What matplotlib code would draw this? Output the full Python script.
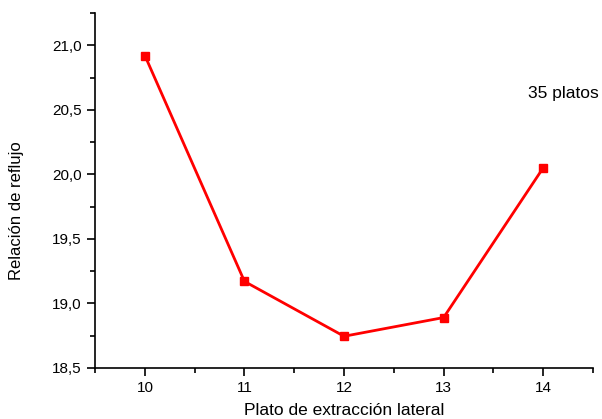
import matplotlib.pyplot as plt
from matplotlib.ticker import MultipleLocator, FuncFormatter

plt.rcParams['font.family'] = ['Liberation Sans', 'DejaVu Sans']

platos = [10, 11, 12, 13, 14]
reflujo = [20.92, 19.17, 18.745, 18.89, 20.05]

fig = plt.figure(figsize=(6.02, 4.19), dpi=100)
ax = fig.add_axes([0.158, 0.122, 0.827, 0.847])

ax.plot(platos, reflujo, color='#ff0000', linewidth=2, marker='s', markersize=6)

ax.set_xlim(9.5, 14.5)
ax.set_ylim(18.5, 21.25)
ax.xaxis.set_major_locator(MultipleLocator(1))
ax.xaxis.set_minor_locator(MultipleLocator(0.5))
ax.yaxis.set_major_locator(MultipleLocator(0.5))
ax.yaxis.set_minor_locator(MultipleLocator(0.25))
ax.yaxis.set_major_formatter(FuncFormatter(lambda v, p: '{:.1f}'.format(v).replace('.', ',')))

for s in ['top', 'right']:
    ax.spines[s].set_visible(False)
for s in ['left', 'bottom']:
    ax.spines[s].set_linewidth(1.2)

ax.tick_params(which='major', direction='out', length=6, width=1.2, labelsize=11)
ax.tick_params(which='minor', direction='out', length=3.5, width=1.2)

ax.set_xlabel('Plato de extracción lateral', fontsize=12.5, labelpad=6)
ax.set_ylabel('Relación de reflujo', fontsize=12, va='center')
ax.yaxis.set_label_coords(-0.157, 0.442)
ax.text(13.85, 20.63, '35 platos', fontsize=12.5, va='center', ha='left')

fig.savefig('out.png', dpi=100)
